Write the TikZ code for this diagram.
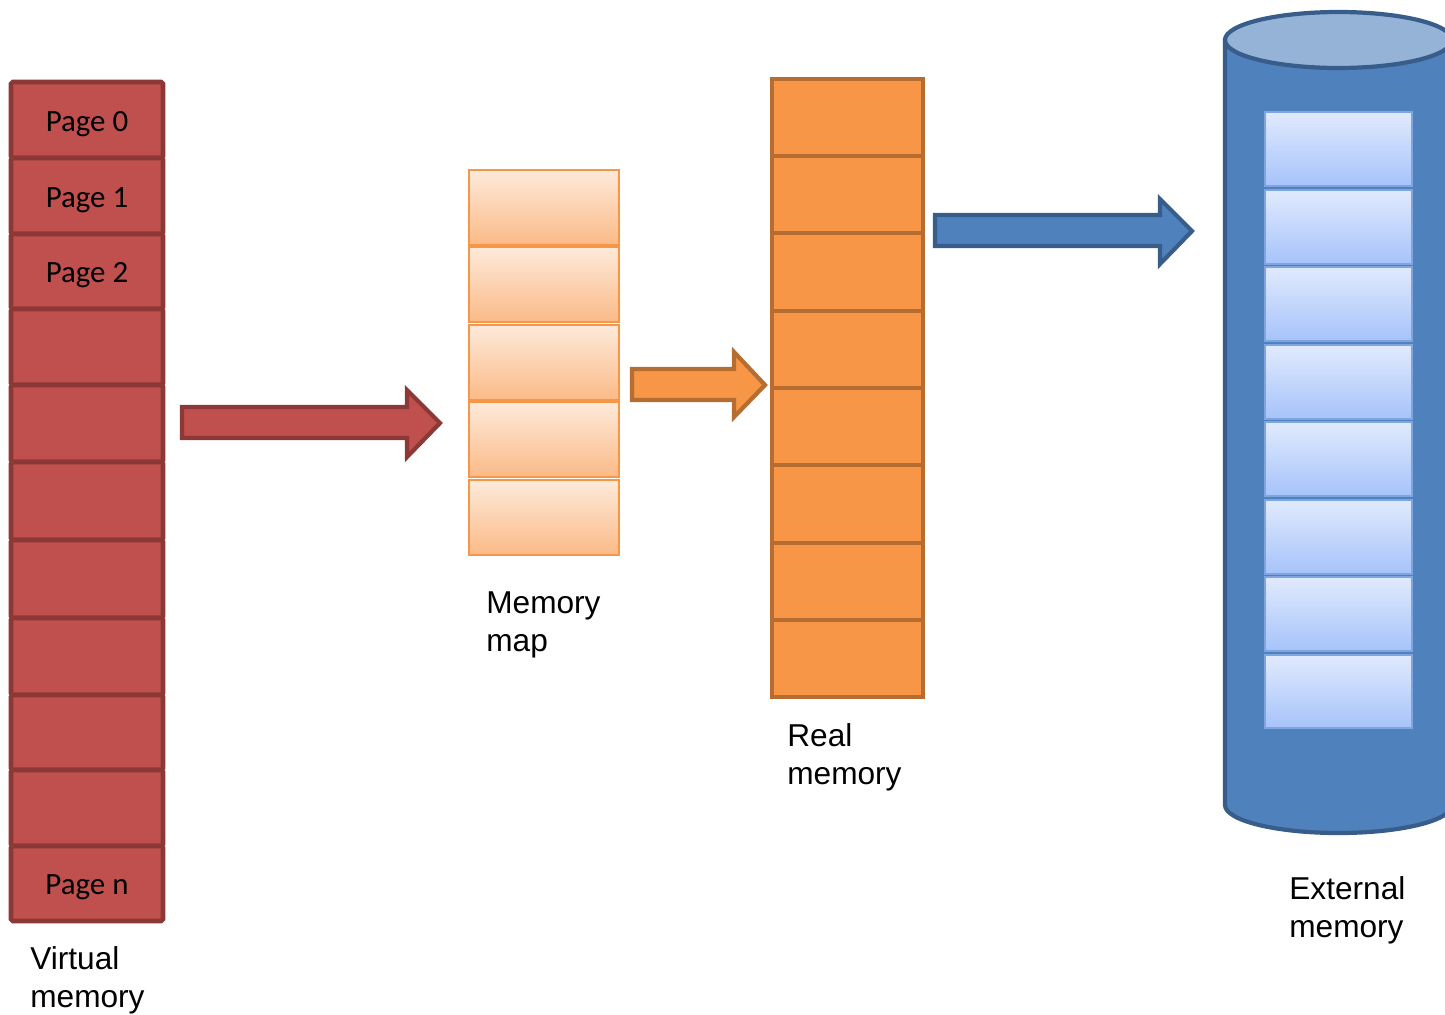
\documentclass[tikz,border=0pt]{standalone}
\usepackage{fontspec}
\setmainfont{Liberation Sans}
\newfontfamily\calfont{Carlito}
\definecolor{redfill}{HTML}{C0504D}
\definecolor{redline}{HTML}{8C3836}
\definecolor{orfill}{HTML}{F79646}
\definecolor{orline}{HTML}{B66D31}
\definecolor{bluefill}{HTML}{4F81BD}
\definecolor{blueline}{HTML}{385D8A}
\definecolor{bluetop}{HTML}{95B3D7}
\definecolor{maptop}{HTML}{FDEADA}
\definecolor{mapbot}{HTML}{FBBA87}
\definecolor{disktop}{HTML}{E0EAFD}
\definecolor{diskbot}{HTML}{A6C3FA}
\definecolor{diskline}{HTML}{7EA5DF}
\tikzset{
  vcell/.style={draw=redline, fill=redfill, line width=2.6pt, rounded corners=1pt},
  mcell/.style={draw=orfill, line width=1.2pt, top color=maptop, bottom color=mapbot},
  rcell/.style={draw=orline, fill=orfill, line width=2.6pt},
  dcell/.style={draw=diskline, line width=0.8pt, top color=disktop, bottom color=diskbot},
  pagetxt/.style={font=\calfont\fontsize{17.6}{20}\selectfont, inner sep=0pt},
  lbl/.style={font=\fontsize{18}{21.6}\selectfont, align=left, anchor=west, inner sep=0pt},
}
\begin{document}
\begin{tikzpicture}[x=0.02cm, y=-0.02cm]
\useasboundingbox (0,0) rectangle (1445,1015);
\clip (0,0) rectangle (1445,1015);
% Virtual memory
\foreach \a/\b [count=\i] in {82/158,158/234,234/309,309/385,385/462,462/540,540/618,618/695,695/770,770/846,846/921}
  \draw[vcell] (11,\a) rectangle (163,\b) coordinate (v\i);
\node[pagetxt] (p0) at (87,124) {Page 0};
\node[pagetxt] (p1) at (87,200) {Page 1};
\node[pagetxt] (p2) at (87,275) {Page 2};
\node[pagetxt] (pn) at (87,887) {Page n};
\node[lbl] (vlab) at (30,980) {Virtual\\memory};
% red arrow
\draw[draw=redline, fill=redfill, line width=2.4pt, line join=miter]
  (182,407) -- (407,407) -- (407,390) -- (440,423) -- (407,457) -- (407,438) -- (182,438) -- cycle;
% Memory map
\foreach \a/\b [count=\i] in {170/245,247/322,325/400,402/477,480/555}
  \draw[mcell] (469,\a) rectangle (619,\b) coordinate (m\i);
\node[lbl] (mlab) at (486,625) {Memory\\map};
% orange arrow
\draw[draw=orline, fill=orfill, line width=2.4pt, line join=miter]
  (632,369) -- (734,369) -- (734,352) -- (765,385) -- (734,417) -- (734,400) -- (632,400) -- cycle;
% Real memory
\foreach \a/\b [count=\i] in {79/156,156/233,233/311,311/388,388/465,465/543,543/620,620/697}
  \draw[rcell] (772,\a) rectangle (923,\b) coordinate (r\i);
\node[lbl] (rlab) at (787,757) {Real\\memory};
% blue arrow
\draw[draw=blueline, fill=bluefill, line width=2.4pt, line join=miter]
  (935,215) -- (1160,215) -- (1160,199) -- (1192,231) -- (1160,264) -- (1160,246) -- (935,246) -- cycle;
% Cylinder
\draw[draw=blueline, fill=bluefill, line width=2.4pt]
  (1225,40) -- (1225,805) arc[start angle=180, end angle=0, x radius=113.5, y radius=28]
  -- (1452,40) -- cycle;
\draw[draw=blueline, fill=bluetop, line width=2.4pt] (1338.5,40) ellipse[x radius=113.5, y radius=28];
\foreach \a/\b [count=\i] in {112/186,190/264,267/341,345/419,422/496,500/574,577/651,655/728}
  \draw[dcell] (1265,\a) rectangle (1412,\b) coordinate (d\i);
\node[lbl] (elab) at (1289,910) {External\\memory};
\end{tikzpicture}
\end{document}
